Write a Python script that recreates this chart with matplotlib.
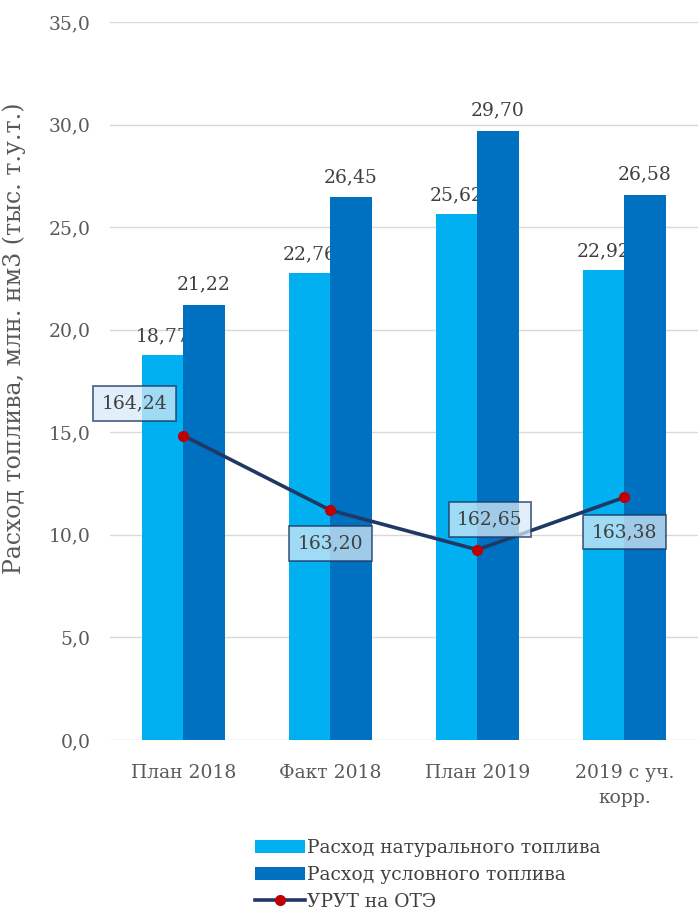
import matplotlib
matplotlib.use("Agg")
import matplotlib.pyplot as plt
import numpy as np

# data
categories = ["План 2018", "Факт 2018", "План 2019", "2019 с уч.\nкорр."]
natural_fuel = [18.77, 22.76, 25.62, 22.92]
standard_fuel = [21.22, 26.45, 29.70, 26.58]
urut = [164.24, 163.20, 162.65, 163.38]

series_names = ["Расход натурального топлива",
                "Расход условного топлива",
                "УРУТ на ОТЭ"]

# label box offsets (points) for the line labels
label_offsets = [(-35, 23), (0, -24), (9, 22), (0, -25)]


def fmt(v, n=2):
    return f"{v:.{n}f}".replace(".", ",")


plt.rcParams["font.family"] = ["DejaVu Serif", "Liberation Serif"]
plt.rcParams["font.size"] = 13

fig = plt.figure(figsize=(7, 9.13), dpi=100)
ax = fig.add_axes([0.157, 0.1895, 0.84, 0.7864])

x = np.arange(len(categories))
w = 0.28
grey = "#595959"
fs = 13.5

b1 = ax.bar(x - w / 2, natural_fuel, w, color="#00b0f0", zorder=2,
            label=series_names[0])
b2 = ax.bar(x + w / 2, standard_fuel, w, color="#0070c0", zorder=4,
            label=series_names[1])

for xi, v in zip(x - w / 2, natural_fuel):
    ax.annotate(fmt(v), (xi, v), xytext=(0, 7), textcoords="offset points",
                ha="center", va="bottom", color="#404040", fontsize=fs,
                zorder=3)
for xi, v in zip(x + w / 2, standard_fuel):
    ax.annotate(fmt(v), (xi, v), xytext=(0, 8), textcoords="offset points",
                ha="center", va="bottom", color="#404040", fontsize=fs,
                zorder=5)

ax.set_xlim(-0.5, len(categories) - 0.5)
ax.set_ylim(0, 35)
ax.set_yticks(np.arange(0, 35.1, 5))
ax.set_yticklabels([fmt(t, 1) for t in np.arange(0, 35.1, 5)])
ax.set_xticks(x)
ax.set_xticklabels(categories, color=grey, fontsize=fs, linespacing=1.55)
ax.tick_params(axis="y", colors=grey, labelsize=fs, length=0, pad=14)
ax.tick_params(axis="x", length=0, pad=17)
ax.grid(axis="y", color="#d9d9d9", linewidth=1, zorder=0)
ax.set_axisbelow(True)
for s in ax.spines.values():
    s.set_visible(False)
ax.set_ylabel("Расход топлива, млн. нм3 (тыс. т.у.т.)", color=grey,
              fontsize=17)
ax.yaxis.set_label_coords(-0.142, 0.56)

ax2 = ax.twinx()
ax2.set_ylim(160, 170)
ax2.axis("off")
ln, = ax2.plot(x, urut, color="#1f3864", linewidth=2.6, marker="o",
               markersize=7, markerfacecolor="#c00000",
               markeredgecolor="#c00000", zorder=6, label=series_names[2])
for xi, v, off in zip(x, urut, label_offsets):
    ax2.annotate(fmt(v), (xi, v), xytext=off, textcoords="offset points",
                 ha="center", va="center", color="#404040", fontsize=fs,
                 bbox=dict(boxstyle="square,pad=0.45", facecolor="#d6eaf8",
                           alpha=0.75, edgecolor="#1f3864", linewidth=1.3),
                 zorder=7)

fig.legend(handles=[b1, b2, ln], loc="upper left",
           bbox_to_anchor=(0.364, 0.081), frameon=False, fontsize=fs,
           handlelength=2.7, handletextpad=0.1, labelspacing=0.48,
           labelcolor="#404040", borderaxespad=0, borderpad=0)

fig.savefig("out.png", dpi=100)
